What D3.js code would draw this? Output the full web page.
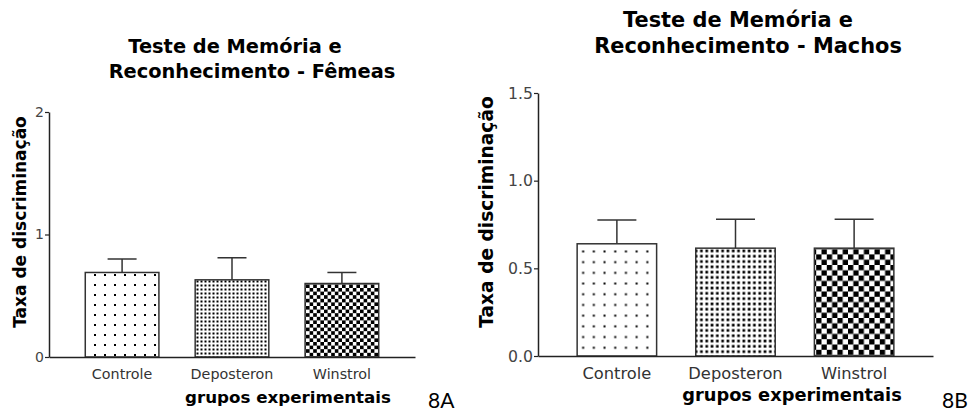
<!DOCTYPE html>
<html>
<head>
<meta charset="utf-8">
<script src="https://cdn.jsdelivr.net/npm/d3@7"></script>
<style>
  body { margin: 0; background: #fff; }
  svg text { font-family: "DejaVu Sans", "Liberation Sans", Arial, sans-serif; }
</style>
</head>
<body>
<div id="chart"></div>
<script>
// data
var groups = ["Controle", "Deposteron", "Winstrol"];

var femeasMean = [0.69, 0.63, 0.60];
var femeasErr = [0.11, 0.18, 0.09];
var femeasTicks = [0, 1, 2];

var machosMean = [0.64, 0.615, 0.615];
var machosErr = [0.135, 0.165, 0.165];
var machosTicks = [0, 0.5, 1.0, 1.5];

var svg = d3.select("#chart")
  .append("svg")
  .attr("width", 974)
  .attr("height", 414);

var defs = svg.append("defs");

// fill patterns: sparse dots, dense dots, checkerboard
function makePatterns(id, sparse, dense, cell) {
  var p1 = defs.append("pattern")
    .attr("id", id + "-sparse")
    .attr("patternUnits", "userSpaceOnUse")
    .attr("width", sparse).attr("height", sparse);
  p1.append("rect").attr("width", sparse).attr("height", sparse).attr("fill", "#fff");
  p1.append("rect").attr("x", sparse / 2 - 1).attr("y", sparse / 2 - 1)
    .attr("width", 2).attr("height", 2).attr("fill", "#000");

  var p2 = defs.append("pattern")
    .attr("id", id + "-dense")
    .attr("patternUnits", "userSpaceOnUse")
    .attr("width", dense).attr("height", dense);
  p2.append("rect").attr("width", dense).attr("height", dense).attr("fill", "#fff");
  p2.append("rect").attr("x", 0.5).attr("y", 0.5)
    .attr("width", dense * 0.5).attr("height", dense * 0.5).attr("fill", "#000");

  var p3 = defs.append("pattern")
    .attr("id", id + "-check")
    .attr("patternUnits", "userSpaceOnUse")
    .attr("width", cell * 2).attr("height", cell * 2);
  p3.append("rect").attr("width", cell * 2).attr("height", cell * 2).attr("fill", "#fff");
  p3.append("rect").attr("width", cell).attr("height", cell).attr("fill", "#000");
  p3.append("rect").attr("x", cell).attr("y", cell)
    .attr("width", cell).attr("height", cell).attr("fill", "#000");

  return [id + "-sparse", id + "-dense", id + "-check"];
}

function drawPanel(cfg) {
  var fills = makePatterns(cfg.id, cfg.sparse, cfg.dense, cfg.cell);

  var x = d3.scaleBand()
    .domain(groups)
    .range(cfg.xRange)
    .padding(0.33);

  var y = d3.scaleLinear()
    .domain(cfg.yDomain)
    .range(cfg.yRange);

  var g = svg.append("g");

  // title
  g.append("text")
    .attr("x", cfg.title1X).attr("y", cfg.title1Y)
    .attr("text-anchor", "middle")
    .attr("font-weight", "bold")
    .attr("font-size", cfg.titleSize)
    .text("Teste de Memória e");
  g.append("text")
    .attr("x", cfg.title2X).attr("y", cfg.title2Y)
    .attr("text-anchor", "middle")
    .attr("font-weight", "bold")
    .attr("font-size", cfg.titleSize)
    .text(cfg.title2);

  var data = groups.map(function(k, i) {
    return { group: k, mean: cfg.mean[i], err: cfg.err[i], fill: fills[i] };
  });

  // error bars (only the upper half shows)
  var eb = g.append("g")
    .attr("stroke", "#333")
    .attr("stroke-width", 1.5);
  eb.selectAll(".stem")
    .data(data)
    .join("line")
    .attr("x1", function(d) { return x(d.group) + x.bandwidth() / 2; })
    .attr("x2", function(d) { return x(d.group) + x.bandwidth() / 2; })
    .attr("y1", function(d) { return y(d.mean); })
    .attr("y2", function(d) { return y(d.mean + d.err); });
  eb.selectAll(".cap")
    .data(data)
    .join("line")
    .attr("x1", function(d) { return x(d.group) + x.bandwidth() / 2 - cfg.cap; })
    .attr("x2", function(d) { return x(d.group) + x.bandwidth() / 2 + cfg.cap; })
    .attr("y1", function(d) { return y(d.mean + d.err); })
    .attr("y2", function(d) { return y(d.mean + d.err); });

  // bars
  g.selectAll(".bar")
    .data(data)
    .join("rect")
    .attr("x", function(d) { return x(d.group); })
    .attr("width", x.bandwidth())
    .attr("y", function(d) { return y(d.mean); })
    .attr("height", function(d) { return y(0) - y(d.mean); })
    .attr("fill", function(d) { return "url(#" + d.fill + ")"; })
    .attr("stroke", "#333")
    .attr("stroke-width", 1.5);

  // y axis
  var yAxis = g.append("g")
    .attr("transform", "translate(" + cfg.xRange[0] + ",0)")
    .call(d3.axisLeft(y)
      .tickValues(cfg.ticks)
      .tickFormat(d3.format(cfg.tickFmt))
      .tickSize(4)
      .tickSizeOuter(0)
      .tickPadding(1));
  yAxis.select(".domain").attr("stroke", "#222").attr("stroke-width", 1.5);
  yAxis.selectAll(".tick line").attr("stroke", "#222").attr("stroke-width", 1.2);
  yAxis.selectAll(".tick text")
    .attr("fill", "#444")
    .attr("font-size", cfg.tickSize)
    .attr("font-family", "DejaVu Sans, sans-serif");

  // x axis
  var xAxis = g.append("g")
    .attr("transform", "translate(0," + y(0) + ")")
    .call(d3.axisBottom(x).tickSize(0).tickSizeOuter(0).tickPadding(cfg.catPad));
  xAxis.select(".domain").attr("stroke", "#222").attr("stroke-width", 1.5);
  xAxis.selectAll(".tick text")
    .attr("fill", "#333")
    .attr("font-size", cfg.catSize)
    .attr("font-family", "DejaVu Sans, sans-serif");

  // axis titles
  g.append("text")
    .attr("transform", "translate(" + cfg.yLabelX + "," + cfg.yLabelY + ") rotate(-90)")
    .attr("text-anchor", "middle")
    .attr("font-weight", "bold")
    .attr("font-size", cfg.yLabelSize)
    .text("Taxa de discriminação");

  g.append("text")
    .attr("x", cfg.xLabelX).attr("y", cfg.xLabelY)
    .attr("text-anchor", "middle")
    .attr("font-weight", "bold")
    .attr("font-size", cfg.xLabelSize)
    .text("grupos experimentais");

  g.append("text")
    .attr("x", cfg.tagX).attr("y", 408)
    .attr("font-size", 21)
    .style("font-family", "Lato, 'Open Sans', sans-serif")
    .text(cfg.tag);
}

drawPanel({
  id: "fem", mean: femeasMean, err: femeasErr, ticks: femeasTicks, tickFmt: "d",
  xRange: [49, 415], yDomain: [0, 2], yRange: [357, 112],
  sparse: 10, dense: 4, cell: 3.6, cap: 14.5,
  title2: "Reconhecimento - Fêmeas",
  title1X: 235, title1Y: 53, title2X: 252, title2Y: 78, titleSize: 19.4,
  tickSize: 14, catSize: 14.3, catPad: 12,
  yLabelX: 26, yLabelY: 222, yLabelSize: 17,
  xLabelX: 288, xLabelY: 403, xLabelSize: 16.7,
  tagX: 428, tag: "8A"
});

drawPanel({
  id: "mac", mean: machosMean, err: machosErr, ticks: machosTicks, tickFmt: ".1f",
  xRange: [538, 933], yDomain: [0, 1.5], yRange: [356, 93],
  sparse: 10.7, dense: 5.3, cell: 5.3, cap: 19.5,
  title2: "Reconhecimento - Machos",
  title1X: 738, title1Y: 27, title2X: 748, title2Y: 53, titleSize: 20.9,
  tickSize: 15.7, catSize: 16.3, catPad: 11,
  yLabelX: 493, yLabelY: 212, yLabelSize: 18.6,
  xLabelX: 792, xLabelY: 401, xLabelSize: 17.8,
  tagX: 942, tag: "8B"
});
</script>
</body>
</html>
